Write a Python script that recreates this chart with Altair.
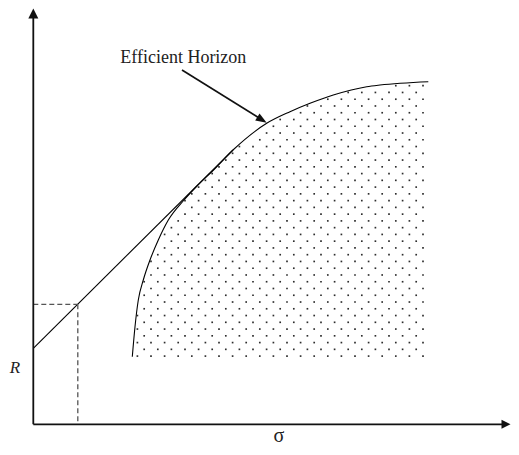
import altair as alt
import pandas as pd
import numpy as np
import math

# Data units: sigma (x) and R (y), origin at the axes' corner.
curve_sigma = [99.0, 101.7, 105.0, 110.0, 116.7, 125.0, 135.0, 150.7, 162.7,
               180.7, 199.7, 233.4, 256.7, 276.7, 300.0, 333.4, 346.7, 395.0]
curve_R = [67.6, 97.6, 124.3, 144.3, 164.3, 184.3, 204.3, 224.3, 237.3,
           254.8, 274.3, 301.0, 312.6, 321.0, 329.3, 337.6, 339.3, 342.6]

tangent_sigma = [0.0, 199.7]
tangent_R = [76.0, 274.3]

dash_sigma = [0.0, 44.5, 44.5]
dash_R = [120.0, 120.0, 0.0]

axis_top_R = 406.5
axis_right_sigma = 469.0
arrow_y_tip = [0.0, 410.8]      # center of the y-axis arrowhead
arrow_x_tip = [472.7, 0.0]      # center of the x-axis arrowhead

annot_start = [148.7, 354.3]
annot_tip = [233.4, 301.6]

labels_text = ["Efficient Horizon", "R", "\u03c3"]
labels_sigma = [150.0, -18.3, 245.7]
labels_R = [366.5, 56.3, -22.0]

# dot texture (fill pattern of the feasible region)
dot_row_step = 6.76
dot_col_step = 13.6
dot_top_R = 338.6
dot_right_sigma = 389.7

xs = alt.Scale(domain=[-25.3, 477.7], nice=False, zero=False)
ys = alt.Scale(domain=[-22.7, 416.3], nice=False, zero=False)

def X(f="s"):
    return alt.X(f"{f}:Q", scale=xs, axis=None)

def Y(f="r"):
    return alt.Y(f"{f}:Q", scale=ys, axis=None)

# texture dots
pts = []
for k in range(41):
    r = dot_top_R - k * dot_row_step
    off = 0.0 if k % 2 == 0 else dot_col_step / 2
    j = 0
    while True:
        s = dot_right_sigma - off - j * dot_col_step
        if s < curve_sigma[0] + 1:
            break
        cr = np.interp(s, curve_sigma, curve_R)
        if r < cr - 1.0:
            pts.append({"s": s, "r": r})
        j += 1
dots_df = pd.DataFrame(pts)

curve_df = pd.DataFrame({"s": curve_sigma, "r": curve_R})
tan_df = pd.DataFrame({"s": tangent_sigma, "r": tangent_R})
dash_h = pd.DataFrame({"s": [dash_sigma[0]], "s2": [dash_sigma[1]], "r": [dash_R[0]]})
dash_v = pd.DataFrame({"s": [dash_sigma[1]], "r": [dash_R[1]], "r2": [dash_R[2]]})
axis_y = pd.DataFrame({"s": [0.0], "r": [0.0], "r2": [axis_top_R]})
axis_x = pd.DataFrame({"s": [0.0], "s2": [axis_right_sigma], "r": [0.0]})

dx = annot_tip[0] - annot_start[0]
dy = annot_tip[1] - annot_start[1]
L = math.hypot(dx, dy)
ux, uy = dx / L, dy / L
head_len = 11.0
angle = math.degrees(math.atan2(-dy, dx))
annot_line = pd.DataFrame({"s": [annot_start[0]], "r": [annot_start[1]],
                           "s2": [annot_tip[0] - ux * head_len * 0.9],
                           "r2": [annot_tip[1] - uy * head_len * 0.9]})
annot_head = pd.DataFrame({"s": [annot_tip[0] - ux * head_len / 2],
                           "r": [annot_tip[1] - uy * head_len / 2]})

dots = alt.Chart(dots_df).mark_square(size=2.8, color="#222222", opacity=0.95).encode(x=X(), y=Y())
curve = alt.Chart(curve_df).mark_line(interpolate="monotone", color="black", strokeWidth=1.1).encode(x=X(), y=Y())
tangent = alt.Chart(tan_df).mark_line(color="black", strokeWidth=1.1).encode(x=X(), y=Y())
dh = alt.Chart(dash_h).mark_rule(color="#555555", strokeWidth=1.3, strokeDash=[5, 3]).encode(
    x=X(), x2="s2:Q", y=Y())
dv = alt.Chart(dash_v).mark_rule(color="#555555", strokeWidth=1.3, strokeDash=[5, 3]).encode(
    x=X(), y=Y(), y2="r2:Q")
ay = alt.Chart(axis_y).mark_rule(color="#111111", strokeWidth=1.8).encode(x=X(), y=Y(), y2="r2:Q")
ax = alt.Chart(axis_x).mark_rule(color="#111111", strokeWidth=1.8).encode(x=X(), x2="s2:Q", y=Y())
head_y = alt.Chart(pd.DataFrame({"s": [arrow_y_tip[0]], "r": [arrow_y_tip[1]]})).mark_point(
    shape="M0,-1L-1,1L1,1Z", size=100, filled=True, color="#111111", opacity=1).encode(x=X(), y=Y())
head_x = alt.Chart(pd.DataFrame({"s": [arrow_x_tip[0]], "r": [arrow_x_tip[1]]})).mark_point(
    shape="M1,0L-1,-1L-1,1Z", size=81, filled=True, color="#111111", opacity=1).encode(x=X(), y=Y())
aline = alt.Chart(annot_line).mark_rule(color="#111111", strokeWidth=1.7).encode(
    x=X(), x2="s2:Q", y=Y(), y2="r2:Q")
ahead = alt.Chart(annot_head).mark_point(
    shape="M1,0L-1,-0.75L-1,0.75Z", size=121, filled=True, color="#111111", opacity=1,
    angle=angle).encode(x=X(), y=Y())

lab_df = pd.DataFrame({"t": labels_text, "s": labels_sigma, "r": labels_R})
t1 = alt.Chart(lab_df.iloc[[0]]).mark_text(font="Liberation Serif", fontSize=18, color="#222222",
                                           baseline="middle").encode(x=X(), y=Y(), text="t:N")
t2 = alt.Chart(lab_df.iloc[[1]]).mark_text(font="Liberation Serif", fontSize=17, fontStyle="italic",
                                           color="#222222", baseline="middle").encode(x=X(), y=Y(), text="t:N")
t3 = alt.Chart(lab_df.iloc[[2]]).mark_text(font="Liberation Serif", fontSize=20, color="#222222",
                                           baseline="bottom").encode(x=X(), y=Y(), text="t:N")

chart = alt.layer(dots, curve, tangent, dh, dv, ay, ax, head_y, head_x, aline, ahead, t1, t2, t3).properties(
    width=503, height=439, padding=0, autosize=alt.AutoSizeParams(type="none"), background="white"
).configure_view(stroke=None)

chart.save("out.html", embed_options={"renderer": "svg", "actions": False})
